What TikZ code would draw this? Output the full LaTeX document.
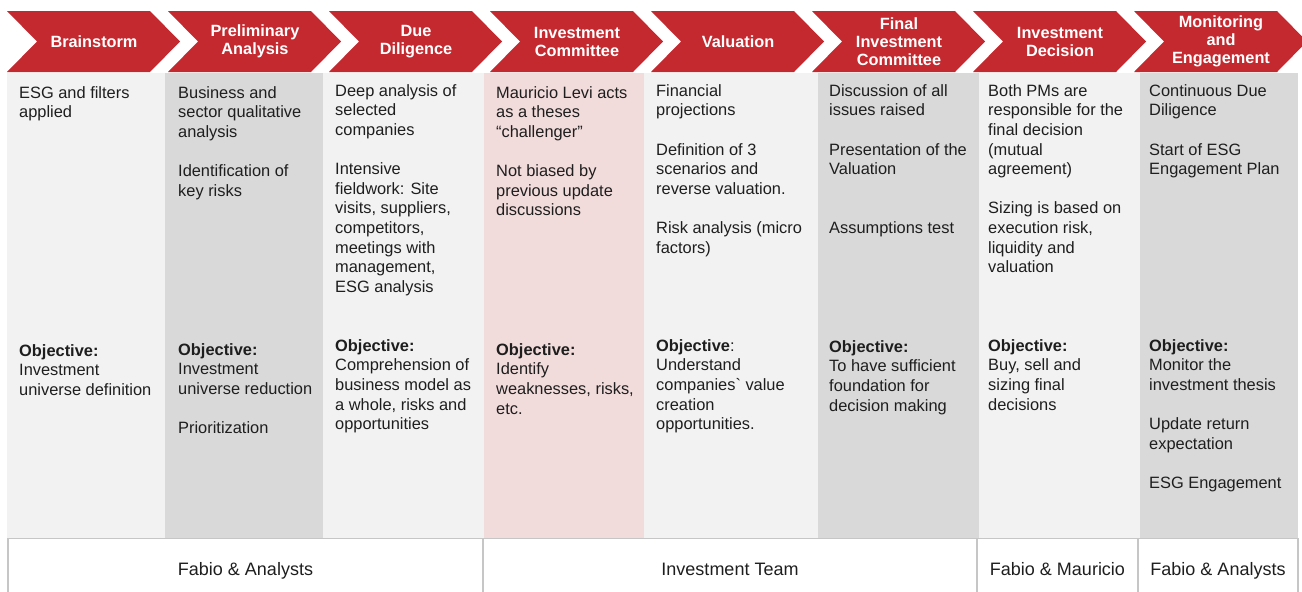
\documentclass[tikz,border=0pt]{standalone}
\usepackage{fontspec}
\setmainfont{Liberation Sans}[Ligatures=TeXOff]
\definecolor{chevred}{HTML}{C3292F}
\definecolor{bglight}{HTML}{F2F2F2}
\definecolor{bgdark}{HTML}{D9D9D9}
\definecolor{bgpink}{HTML}{F2DCDB}
\definecolor{rulegray}{HTML}{C6C6C6}
\definecolor{ink}{HTML}{1E1E1E}
\begin{document}
\begin{tikzpicture}[x=1pt,y=-1pt,
  chev/.style={fill=chevred,draw=none},
  head/.style={text=white,font=\fontsize{16.3}{18}\selectfont\bfseries,align=center,inner sep=0pt},
  body/.style={text=ink,font=\fontsize{16.4}{19.6}\selectfont,align=left,anchor=north west,inner sep=0pt},
  foot/.style={text=ink,font=\fontsize{18}{21}\selectfont,inner sep=0pt,anchor=base},
  frame/.style={draw=rulegray,line width=1.5pt}]
\useasboundingbox (0,0) rectangle (1302,592);
\clip (0,0) rectangle (1302,592);
% column backgrounds
\fill[bglight] (7,73) rectangle (165,538);
\fill[bgdark] (165,73) rectangle (323,538);
\fill[bglight] (323,73) rectangle (484,538);
\fill[bgpink] (484,73) rectangle (644,538);
\fill[bglight] (644,73) rectangle (818,538);
\fill[bgdark] (818,73) rectangle (979,538);
\fill[bglight] (979,73) rectangle (1140,538);
\fill[bgdark] (1140,73) rectangle (1298,538);
% chevrons
\foreach \L in {7,168,329,490,651,812,973,1134}{
  \fill[chev] (\L,11) -- (\L+143,11) -- (\L+173,41.5) -- (\L+143,72) -- (\L,72) -- (\L+30,41.5) -- cycle;
}
\node[head] (h1) at (94,41.5) {Brainstorm};
\node[head] (h2) at (255,41.5) {Preliminary\\Analysis};
\node[head] (h3) at (416,41.5) {Due\\Diligence};
\node[head] (h4) at (577,41.5) {Investment\\Committee};
\node[head] (h5) at (738,41.5) {Valuation};
\node[head] (h6) at (899,41.5) {Final\\Investment\\Committee};
\node[head] (h7) at (1060,41.5) {Investment\\Decision};
\node[head] (h8) at (1221,41.5) {Monitoring\\and\\Engagement};
% upper texts
\node[body] (t1) at (19,84.3) {\strut ESG and filters\\applied};
\node[body] (t2) at (178,84.3) {\strut Business and\\sector qualitative\\analysis\\[19.6pt]Identification of\\key risks};
\node[body] (t3) at (335,82.3) {\strut Deep analysis of\\selected\\companies\\[19.6pt]Intensive\\fieldwork: Site\\visits, suppliers,\\competitors,\\meetings with\\management,\\ESG analysis};
\node[body] (t4) at (496,84.3) {\strut Mauricio Levi acts\\as a theses\\“challenger”\\[19.6pt]Not biased by\\previous update\\discussions};
\node[body] (t5) at (656,82.3) {\strut Financial\\projections\\[19.6pt]Definition of 3\\scenarios and\\reverse valuation.\\[19.6pt]Risk analysis (micro\\factors)};
\node[body] (t6) at (829,82.3) {\strut Discussion of all\\issues raised\\[19.6pt]Presentation of the\\Valuation\\[39.2pt]Assumptions test};
\node[body] (t7) at (988,82.3) {\strut Both PMs are\\responsible for the\\final decision\\(mutual\\agreement)\\[19.6pt]Sizing is based on\\execution risk,\\liquidity and\\valuation};
\node[body] (t8) at (1149,82.3) {\strut Continuous Due\\Diligence\\[19.6pt]Start of ESG\\Engagement Plan};
% objectives
\node[body] (o1) at (19,342.3) {\strut\textbf{Objective:}\\Investment\\universe definition};
\node[body] (o2) at (178,341.3) {\strut\textbf{Objective:}\\Investment\\universe reduction\\[19.6pt]Prioritization};
\node[body] (o3) at (335,337.3) {\strut\textbf{Objective:}\\Comprehension of\\business model as\\a whole, risks and\\opportunities};
\node[body] (o4) at (496,341.3) {\strut\textbf{Objective:}\\Identify\\weaknesses, risks,\\etc.};
\node[body] (o5) at (656,337.3) {\strut\textbf{Objective}:\\Understand\\companies` value\\creation\\opportunities.};
\node[body] (o6) at (829,338.3) {\strut\textbf{Objective:}\\To have sufficient\\foundation for\\decision making};
\node[body] (o7) at (988,337.3) {\strut\textbf{Objective:}\\Buy, sell and\\sizing final\\decisions};
\node[body] (o8) at (1149,337.3) {\strut\textbf{Objective:}\\Monitor the\\investment thesis\\[19.6pt]Update return\\expectation\\[19.6pt]ESG Engagement};
% bottom frame
\draw[frame] (8,600) -- (8,538.5) -- (1298,538.5) -- (1298,600);
\draw[frame] (483,538.5) -- (483,600);
\draw[frame] (977,538.5) -- (977,600);
\draw[frame] (1138,538.5) -- (1138,600);
\node[foot] (f1) at (245.5,575.5) {Fabio \& Analysts};
\node[foot] (f2) at (730,575.5) {Investment Team};
\node[foot] (f3) at (1057.5,575.5) {Fabio \& Mauricio};
\node[foot] (f4) at (1218,575.5) {Fabio \& Analysts};
\end{tikzpicture}
\end{document}
